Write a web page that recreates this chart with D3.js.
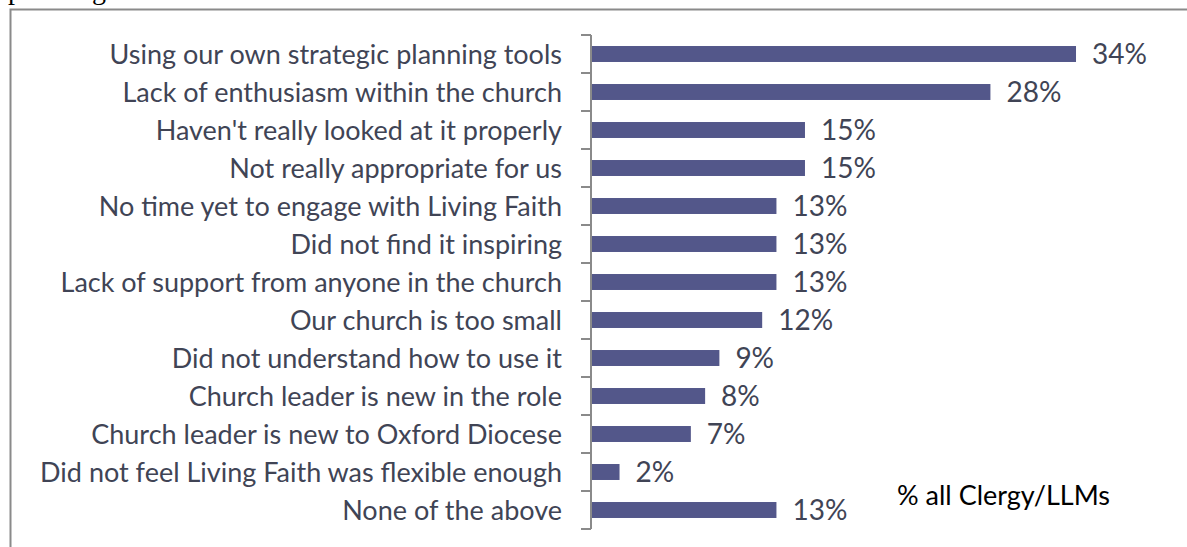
<!DOCTYPE html>
<html>
<head>
<meta charset="utf-8">
<script src="https://cdn.jsdelivr.net/npm/d3@7"></script>
<style>
  html, body { margin: 0; padding: 0; background: #fff; }
  svg { display: block; }
</style>
</head>
<body>
<svg id="chart" width="1187" height="547"></svg>
<script>
// Reasons given for not using Living Faith (% of all Clergy/LLMs)
const categories = [
  "Using our own strategic planning tools",
  "Lack of enthusiasm within the church",
  "Haven't really looked at it properly",
  "Not really appropriate for us",
  "No time yet to engage with Living Faith",
  "Did not find it inspiring",
  "Lack of support from anyone in the church",
  "Our church is too small",
  "Did not understand how to use it",
  "Church leader is new in the role",
  "Church leader is new to Oxford Diocese",
  "Did not feel Living Faith was flexible enough",
  "None of the above"
];
const values = [34, 28, 15, 15, 13, 13, 13, 12, 9, 8, 7, 2, 13];
const seriesName = "% all Clergy/LLMs";

const svg = d3.select("#chart");
const font = "Lato, 'Open Sans', sans-serif";

// page text running above the chart frame
svg.append("text")
  .attr("x", 8).attr("y", -1)
  .attr("font-family", "'Liberation Serif', serif")
  .attr("font-size", 28)
  .attr("fill", "#000")
  .text("planning");

// chart frame
svg.append("rect")
  .attr("x", 10.5).attr("y", 9.5)
  .attr("width", 1300).attr("height", 700)
  .attr("fill", "none")
  .attr("stroke", "#8a8a8a")
  .attr("stroke-width", 2);

const x0 = 591, plotTop = 35, plotBottom = 529;

const y = d3.scaleBand()
  .domain(categories)
  .range([plotTop, plotBottom])
  .paddingInner(0.58)
  .paddingOuter(0.29);

const x = d3.scaleLinear()
  .domain([0, 40])
  .range([x0, x0 + 570.6]);

// bars
svg.append("g")
  .selectAll("rect")
  .data(values)
  .join("rect")
  .attr("x", x(0))
  .attr("y", (d, i) => y(categories[i]))
  .attr("width", d => x(d) - x(0))
  .attr("height", y.bandwidth())
  .attr("fill", "#53578a");

// value labels
svg.append("g")
  .selectAll("text")
  .data(values)
  .join("text")
  .attr("x", d => x(d) + 16)
  .attr("y", (d, i) => y(categories[i]) + y.bandwidth() / 2)
  .attr("dy", "0.36em")
  .attr("font-family", font)
  .attr("font-size", 28)
  .attr("fill", "#404455")
  .text(d => d3.format(".0%")(d / 100));

// category axis with ticks between categories
const step = (plotBottom - plotTop) / categories.length;
const tickPos = d3.range(categories.length + 1).map(i => plotTop + i * step);
const axis = svg.append("g");
axis.append("line")
  .attr("x1", x0).attr("x2", x0)
  .attr("y1", plotTop).attr("y2", plotBottom)
  .attr("stroke", "#8a8a8a").attr("stroke-width", 2);
axis.selectAll("line.tick")
  .data(tickPos)
  .join("line")
  .attr("class", "tick")
  .attr("x1", x0 - 10).attr("x2", x0)
  .attr("y1", d => d).attr("y2", d => d)
  .attr("stroke", "#8a8a8a").attr("stroke-width", 2);

// category labels
axis.selectAll("text")
  .data(categories)
  .join("text")
  .attr("x", 562)
  .attr("y", d => y(d) + y.bandwidth() / 2)
  .attr("dy", "0.36em")
  .attr("text-anchor", "end")
  .attr("font-family", font)
  .attr("font-size", 27)
  .attr("fill", "#404455")
  .text(d => d);

// series note
svg.append("text")
  .attr("x", 897).attr("y", 505)
  .attr("font-family", font)
  .attr("font-size", 27)
  .attr("fill", "#000")
  .text(seriesName);
</script>
</body>
</html>
